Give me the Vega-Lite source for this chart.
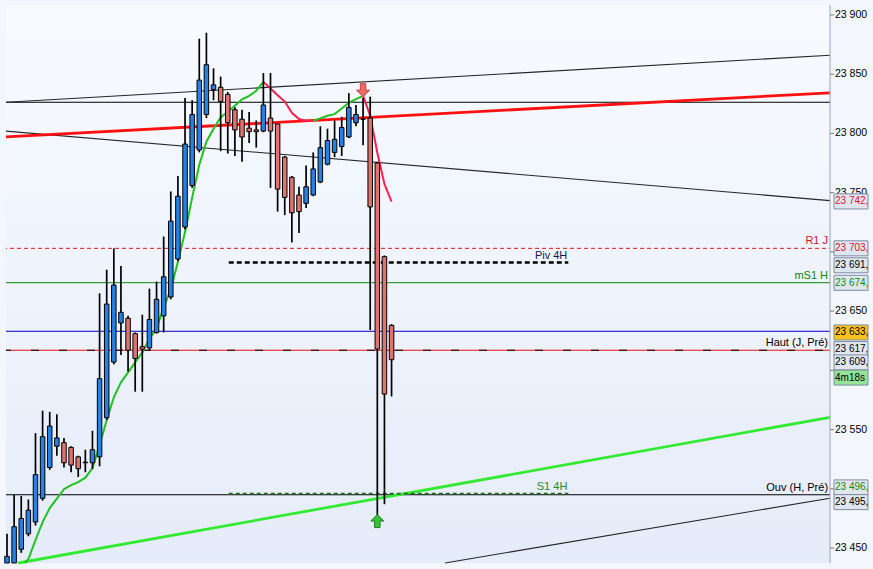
{
  "$schema": "https://vega.github.io/schema/vega-lite/v6.json",
  "width": 873,
  "height": 569,
  "autosize": {"type": "fit", "contains": "padding"},
  "padding": 0,
  "background": "#f3f6fc",
  "datasets": {
    "bougies": [
      {"k": 0, "o": 23437.4, "h": 23462, "l": 23437.4, "c": 23443},
      {"k": 1, "o": 23437.4, "h": 23495, "l": 23437.4, "c": 23468},
      {"k": 2, "o": 23449, "h": 23494, "l": 23446, "c": 23475},
      {"k": 3, "o": 23462, "h": 23491, "l": 23460, "c": 23482},
      {"k": 4, "o": 23472, "h": 23547, "l": 23469, "c": 23512},
      {"k": 5, "o": 23492, "h": 23566, "l": 23490, "c": 23544},
      {"k": 6, "o": 23518, "h": 23565, "l": 23516, "c": 23553},
      {"k": 7, "o": 23536, "h": 23563, "l": 23528, "c": 23543},
      {"k": 8, "o": 23539, "h": 23543, "l": 23518, "c": 23522},
      {"k": 9, "o": 23535, "h": 23536, "l": 23514, "c": 23520},
      {"k": 10, "o": 23527, "h": 23528, "l": 23510, "c": 23517},
      {"k": 11, "o": 23522, "h": 23533, "l": 23514, "c": 23522.5},
      {"k": 12, "o": 23522, "h": 23549, "l": 23517, "c": 23533},
      {"k": 13, "o": 23527, "h": 23665, "l": 23519, "c": 23593},
      {"k": 14, "o": 23560, "h": 23685, "l": 23558, "c": 23656},
      {"k": 15, "o": 23607, "h": 23703, "l": 23605, "c": 23672},
      {"k": 16, "o": 23640, "h": 23688, "l": 23613, "c": 23649},
      {"k": 17, "o": 23644, "h": 23646, "l": 23599, "c": 23617},
      {"k": 18, "o": 23631, "h": 23632, "l": 23582, "c": 23610},
      {"k": 19, "o": 23620, "h": 23647, "l": 23582, "c": 23618},
      {"k": 20, "o": 23619, "h": 23669, "l": 23617, "c": 23643},
      {"k": 21, "o": 23632, "h": 23675, "l": 23631, "c": 23660},
      {"k": 22, "o": 23646, "h": 23713, "l": 23632, "c": 23679},
      {"k": 23, "o": 23662, "h": 23751, "l": 23660, "c": 23726},
      {"k": 24, "o": 23694, "h": 23764, "l": 23692, "c": 23747},
      {"k": 25, "o": 23721, "h": 23830, "l": 23719, "c": 23791},
      {"k": 26, "o": 23756, "h": 23828, "l": 23754, "c": 23816},
      {"k": 27, "o": 23786, "h": 23880, "l": 23784, "c": 23845},
      {"k": 28, "o": 23816, "h": 23885, "l": 23813, "c": 23858},
      {"k": 29, "o": 23837, "h": 23855, "l": 23828, "c": 23841},
      {"k": 30, "o": 23839, "h": 23848, "l": 23785, "c": 23827},
      {"k": 31, "o": 23833, "h": 23835, "l": 23783, "c": 23809},
      {"k": 32, "o": 23820, "h": 23822, "l": 23781, "c": 23803},
      {"k": 33, "o": 23812, "h": 23820, "l": 23776, "c": 23797},
      {"k": 34, "o": 23804.5, "h": 23818, "l": 23792, "c": 23801.5},
      {"k": 35, "o": 23803, "h": 23811, "l": 23788, "c": 23801.5},
      {"k": 36, "o": 23802, "h": 23851, "l": 23801, "c": 23824},
      {"k": 37, "o": 23813, "h": 23851, "l": 23754, "c": 23802},
      {"k": 38, "o": 23808, "h": 23808, "l": 23734, "c": 23753},
      {"k": 39, "o": 23780, "h": 23781, "l": 23731, "c": 23746},
      {"k": 40, "o": 23763, "h": 23764, "l": 23708, "c": 23733},
      {"k": 41, "o": 23748, "h": 23755, "l": 23716, "c": 23734},
      {"k": 42, "o": 23741, "h": 23773, "l": 23737, "c": 23755},
      {"k": 43, "o": 23748, "h": 23784, "l": 23747, "c": 23770},
      {"k": 44, "o": 23759, "h": 23806, "l": 23758, "c": 23788},
      {"k": 45, "o": 23774, "h": 23804, "l": 23773, "c": 23794},
      {"k": 46, "o": 23784, "h": 23811, "l": 23780, "c": 23795},
      {"k": 47, "o": 23789, "h": 23814, "l": 23781, "c": 23805},
      {"k": 48, "o": 23797, "h": 23834, "l": 23796, "c": 23822},
      {"k": 49, "o": 23809, "h": 23824, "l": 23806, "c": 23816},
      {"k": 50, "o": 23812, "h": 23830, "l": 23790, "c": 23812},
      {"k": 51, "o": 23813, "h": 23831, "l": 23634, "c": 23738},
      {"k": 52, "o": 23775, "h": 23776, "l": 23478, "c": 23618},
      {"k": 53, "o": 23696, "h": 23697, "l": 23487, "c": 23580},
      {"k": 54, "o": 23638, "h": 23639, "l": 23578, "c": 23609}
    ],
    "moyenne": [
      {"k": 2.5, "v": 23437.4, "seg": 1, "dir": "hausse"},
      {"k": 3, "v": 23440.7, "seg": 1, "dir": "hausse"},
      {"k": 4, "v": 23456.8, "seg": 1, "dir": "hausse"},
      {"k": 5, "v": 23471.9, "seg": 1, "dir": "hausse"},
      {"k": 6, "v": 23483.7, "seg": 1, "dir": "hausse"},
      {"k": 7, "v": 23491.7, "seg": 1, "dir": "hausse"},
      {"k": 8, "v": 23499.7, "seg": 1, "dir": "hausse"},
      {"k": 9, "v": 23503.1, "seg": 1, "dir": "hausse"},
      {"k": 10, "v": 23505.6, "seg": 1, "dir": "hausse"},
      {"k": 11, "v": 23509.4, "seg": 1, "dir": "hausse"},
      {"k": 12, "v": 23517.4, "seg": 1, "dir": "hausse"},
      {"k": 13, "v": 23536.8, "seg": 1, "dir": "hausse"},
      {"k": 14, "v": 23558.1, "seg": 1, "dir": "hausse"},
      {"k": 15, "v": 23577.3, "seg": 1, "dir": "hausse"},
      {"k": 16, "v": 23589.9, "seg": 1, "dir": "hausse"},
      {"k": 17, "v": 23598.3, "seg": 1, "dir": "hausse"},
      {"k": 18, "v": 23606.7, "seg": 1, "dir": "hausse"},
      {"k": 19, "v": 23615.2, "seg": 1, "dir": "hausse"},
      {"k": 20, "v": 23626.6, "seg": 1, "dir": "hausse"},
      {"k": 21, "v": 23635.4, "seg": 1, "dir": "hausse"},
      {"k": 22, "v": 23653.1, "seg": 1, "dir": "hausse"},
      {"k": 23, "v": 23668.3, "seg": 1, "dir": "hausse"},
      {"k": 24, "v": 23691.9, "seg": 1, "dir": "hausse"},
      {"k": 25, "v": 23716.7, "seg": 1, "dir": "hausse"},
      {"k": 26, "v": 23745.8, "seg": 1, "dir": "hausse"},
      {"k": 27, "v": 23773.6, "seg": 1, "dir": "hausse"},
      {"k": 28, "v": 23793, "seg": 1, "dir": "hausse"},
      {"k": 29, "v": 23803.9, "seg": 1, "dir": "hausse"},
      {"k": 30, "v": 23813.5, "seg": 1, "dir": "hausse"},
      {"k": 31, "v": 23818.3, "seg": 1, "dir": "hausse"},
      {"k": 32, "v": 23823.3, "seg": 1, "dir": "hausse"},
      {"k": 33, "v": 23828.8, "seg": 1, "dir": "hausse"},
      {"k": 34, "v": 23831.7, "seg": 1, "dir": "hausse"},
      {"k": 35, "v": 23836, "seg": 1, "dir": "hausse"},
      {"k": 36, "v": 23843.5, "seg": 1, "dir": "hausse"},
      {"k": 36, "v": 23843.5, "seg": 2, "dir": "baisse"},
      {"k": 37, "v": 23837.9, "seg": 2, "dir": "baisse"},
      {"k": 38, "v": 23832.2, "seg": 2, "dir": "baisse"},
      {"k": 39, "v": 23826.9, "seg": 2, "dir": "baisse"},
      {"k": 40, "v": 23817.4, "seg": 2, "dir": "baisse"},
      {"k": 41, "v": 23812.1, "seg": 2, "dir": "baisse"},
      {"k": 42, "v": 23810.7, "seg": 2, "dir": "baisse"},
      {"k": 43, "v": 23810.7, "seg": 2, "dir": "baisse"},
      {"k": 43, "v": 23810.7, "seg": 3, "dir": "hausse"},
      {"k": 44, "v": 23812.7, "seg": 3, "dir": "hausse"},
      {"k": 45, "v": 23814.9, "seg": 3, "dir": "hausse"},
      {"k": 46, "v": 23816.3, "seg": 3, "dir": "hausse"},
      {"k": 47, "v": 23821, "seg": 3, "dir": "hausse"},
      {"k": 48, "v": 23825.8, "seg": 3, "dir": "hausse"},
      {"k": 49, "v": 23829, "seg": 3, "dir": "hausse"},
      {"k": 50, "v": 23831.7, "seg": 3, "dir": "hausse"},
      {"k": 50, "v": 23831.7, "seg": 4, "dir": "baisse"},
      {"k": 51, "v": 23814.9, "seg": 4, "dir": "baisse"},
      {"k": 52, "v": 23783.7, "seg": 4, "dir": "baisse"},
      {"k": 53, "v": 23757.3, "seg": 4, "dir": "baisse"},
      {"k": 54, "v": 23742.4, "seg": 4, "dir": "baisse"}
    ],
    "niveaux": [
      {"prix": 23826.3, "nom": "horizontale"},
      {"prix": 23703, "nom": "R1 J"},
      {"prix": 23674, "nom": "mS1 H"},
      {"prix": 23633, "nom": "cours"},
      {"prix": 23617, "nom": "rouge"},
      {"prix": 23617, "nom": "Haut (J, Pré)"},
      {"prix": 23495, "nom": "Ouv (H, Pré)"}
    ],
    "tendances": [
      {"k": -0.1403, "prix": 23826.3, "nom": "haut"},
      {"k": 115.57, "prix": 23866.0, "nom": "haut"},
      {"k": -0.1403, "prix": 23801.9, "nom": "descendante"},
      {"k": 115.57, "prix": 23743.3, "nom": "descendante"},
      {"k": 61.51, "prix": 23437.4, "nom": "bas"},
      {"k": 115.57, "prix": 23492.1, "nom": "bas"},
      {"k": -0.1403, "prix": 23797.1, "nom": "rouge"},
      {"k": 115.57, "prix": 23834.3, "nom": "rouge"},
      {"k": 1.57, "prix": 23437.4, "nom": "verte"},
      {"k": 115.57, "prix": 23560.4, "nom": "verte"}
    ],
    "segments": [
      {"k0": 31.14, "k1": 78.82, "prix": 23691, "nom": "Piv 4H"},
      {"k0": 31.14, "k1": 78.82, "prix": 23496, "nom": "S1 4H"}
    ],
    "etiquettes": [
      {"k": 115.29, "prix": 23703, "texte": "R1 J"},
      {"k": 115.29, "prix": 23674, "texte": "mS1 H"},
      {"k": 115.29, "prix": 23617, "texte": "Haut (J, Pré)"},
      {"k": 115.29, "prix": 23495, "texte": "Ouv (H, Pré)"},
      {"k": 78.68, "prix": 23691, "texte": "Piv 4H"},
      {"k": 78.68, "prix": 23496, "texte": "S1 4H"}
    ],
    "fleches": [
      {"k": 50, "prix": 23836.5, "sens": "vente"},
      {"k": 52, "prix": 23472.8, "sens": "achat"}
    ],
    "graduations": [
      {"prix": 23450, "texte": "23 450"},
      {"prix": 23500, "texte": "23 500"},
      {"prix": 23550, "texte": "23 550"},
      {"prix": 23600, "texte": ""},
      {"prix": 23650, "texte": "23 650"},
      {"prix": 23700, "texte": ""},
      {"prix": 23750, "texte": "23 750"},
      {"prix": 23800, "texte": "23 800"},
      {"prix": 23850, "texte": "23 850"},
      {"prix": 23900, "texte": "23 900"}
    ],
    "cadres": [
      {"pos": 23742.6, "texte": "23 742,", "fond": "std", "encre": "rouge"},
      {"pos": 23703, "texte": "23 703,", "fond": "std", "encre": "rouge"},
      {"pos": 23688.7, "texte": "23 691,", "fond": "std", "encre": "noir"},
      {"pos": 23673.9, "texte": "23 674,", "fond": "std", "encre": "vert"},
      {"pos": 23632, "texte": "23 633,", "fond": "or", "encre": "noir"},
      {"pos": 23618, "texte": "23 617,", "fond": "std", "encre": "noir"},
      {"pos": 23606.7, "texte": "23 609,", "fond": "std", "encre": "noir"},
      {"pos": 23593.9, "texte": "4m18s", "fond": "vert", "encre": "noir"},
      {"pos": 23501.2, "texte": "23 496,", "fond": "std", "encre": "vert"},
      {"pos": 23488.8, "texte": "23 495,", "fond": "std", "encre": "noir"}
    ]
  },
  "resolve": {
    "scale": {
      "color": "independent",
      "stroke": "independent",
      "strokeDash": "independent",
      "shape": "independent"
    }
  },
  "layer": [
    {
      "data": {"values": [{}]},
      "mark": {
        "type": "rect",
        "color": {
          "gradient": "linear",
          "x1": 0, "y1": 0, "x2": 0, "y2": 1,
          "stops": [
            {"offset": 0, "color": "#f8faff"},
            {"offset": 1, "color": "#e5ecf9"}
          ]
        }
      },
      "encoding": {
        "x": {"datum": -0.1403, "type": "quantitative", "scale": {"domain": [-0.1403, 120.9], "nice": false, "zero": false}, "axis": null},
        "x2": {"datum": 115.57},
        "y": {"datum": 23908.4, "type": "quantitative", "scale": {"domain": [23437.4, 23908.4], "nice": false, "zero": false}, "axis": null},
        "y2": {"datum": 23437.4}
      }
    },
    {
      "data": {"name": "niveaux"},
      "mark": {"type": "rule", "strokeWidth": 1, "strokeDashOffset": 3},
      "encoding": {
        "x": {"datum": -0.1403, "type": "quantitative", "axis": null},
        "x2": {"datum": 115.57},
        "y": {"field": "prix", "type": "quantitative", "axis": null},
        "color": {
          "field": "nom",
          "scale": {
            "domain": ["horizontale", "R1 J", "mS1 H", "cours", "rouge", "Haut (J, Pré)", "Ouv (H, Pré)"],
            "range": ["#000000", "#e41414", "#0a8a0a", "#0000cc", "#e41414", "#000000", "#000000"]
          },
          "legend": null
        },
        "strokeDash": {
          "field": "nom",
          "scale": {
            "domain": ["horizontale", "R1 J", "mS1 H", "cours", "rouge", "Haut (J, Pré)", "Ouv (H, Pré)"],
            "range": [[1, 0], [4, 3], [1, 0], [1, 0], [1, 0], [8, 20], [1, 0]]
          },
          "legend": null
        }
      }
    },
    {
      "data": {"name": "tendances"},
      "transform": [{"filter": "datum.nom == 'haut' || datum.nom == 'descendante' || datum.nom == 'bas'"}],
      "mark": {"type": "line", "color": "#262626", "strokeWidth": 1.1},
      "encoding": {
        "x": {"field": "k", "type": "quantitative", "axis": null},
        "y": {"field": "prix", "type": "quantitative", "axis": null},
        "detail": {"field": "nom"}
      }
    },
    {
      "data": {"name": "tendances"},
      "transform": [{"filter": "datum.nom == 'rouge' || datum.nom == 'verte'"}],
      "mark": {"type": "line", "strokeWidth": 2.8},
      "encoding": {
        "x": {"field": "k", "type": "quantitative", "axis": null},
        "y": {"field": "prix", "type": "quantitative", "axis": null},
        "color": {"field": "nom", "scale": {"domain": ["rouge", "verte"], "range": ["#ff1010", "#33ea33"]}, "legend": null}
      }
    },
    {
      "data": {"name": "segments"},
      "transform": [{"filter": "datum.nom == 'Piv 4H'"}],
      "mark": {"type": "rule", "color": "#000000", "strokeWidth": 2.4, "strokeDash": [5, 3]},
      "encoding": {
        "x": {"field": "k0", "type": "quantitative", "axis": null},
        "x2": {"field": "k1"},
        "y": {"field": "prix", "type": "quantitative", "axis": null}
      }
    },
    {
      "data": {"name": "segments"},
      "transform": [{"filter": "datum.nom == 'S1 4H'"}],
      "mark": {"type": "rule", "color": "#1f6a1f", "strokeWidth": 1.8, "strokeDash": [4, 3]},
      "encoding": {
        "x": {"field": "k0", "type": "quantitative", "axis": null},
        "x2": {"field": "k1"},
        "y": {"field": "prix", "type": "quantitative", "axis": null}
      }
    },
    {
      "data": {"name": "moyenne"},
      "mark": {"type": "line", "strokeWidth": 2},
      "encoding": {
        "x": {"field": "k", "type": "quantitative", "axis": null},
        "y": {"field": "v", "type": "quantitative", "axis": null},
        "detail": {"field": "seg"},
        "color": {"field": "dir", "scale": {"domain": ["hausse", "baisse"], "range": ["#1fc21f", "#ff1f50"]}, "legend": null}
      }
    },
    {
      "data": {"name": "bougies"},
      "mark": {"type": "rule", "color": "#000000", "strokeWidth": 1.7},
      "encoding": {
        "x": {"field": "k", "type": "quantitative", "axis": null},
        "y": {"field": "l", "type": "quantitative", "axis": null},
        "y2": {"field": "h"}
      }
    },
    {
      "data": {"name": "bougies"},
      "mark": {"type": "bar", "width": 4.5, "stroke": "#000000", "strokeWidth": 1},
      "encoding": {
        "x": {"field": "k", "type": "quantitative", "axis": null},
        "y": {"field": "o", "type": "quantitative", "axis": null},
        "y2": {"field": "c"},
        "color": {"condition": {"test": "datum.c >= datum.o", "value": "#2581e6"}, "value": "#e0736f"}
      }
    },
    {
      "data": {"name": "fleches"},
      "mark": {"type": "point", "filled": true, "size": 170, "strokeWidth": 1, "opacity": 1},
      "encoding": {
        "x": {"field": "k", "type": "quantitative", "axis": null},
        "y": {"field": "prix", "type": "quantitative", "axis": null},
        "shape": {
          "field": "sens",
          "scale": {
            "domain": ["vente", "achat"],
            "range": ["M-0.42,-1L0.42,-1L0.42,0L1,0L0,1L-1,0L-0.42,0Z", "M-0.42,1L0.42,1L0.42,0L1,0L0,-1L-1,0L-0.42,0Z"]
          },
          "legend": null
        },
        "color": {"field": "sens", "scale": {"domain": ["vente", "achat"], "range": ["#ef6a66", "#35c435"]}, "legend": null},
        "stroke": {"field": "sens", "scale": {"domain": ["vente", "achat"], "range": ["#c0403c", "#1d7f1d"]}, "legend": null}
      }
    },
    {
      "data": {"name": "etiquettes"},
      "mark": {"type": "text", "align": "right", "baseline": "bottom", "dy": -2, "font": "Liberation Sans", "fontSize": 11},
      "encoding": {
        "x": {"field": "k", "type": "quantitative", "axis": null},
        "y": {"field": "prix", "type": "quantitative", "axis": null},
        "text": {"field": "texte"},
        "color": {
          "field": "texte",
          "scale": {
            "domain": ["R1 J", "mS1 H", "Haut (J, Pré)", "Ouv (H, Pré)", "Piv 4H", "S1 4H"],
            "range": ["#e41414", "#0a8a0a", "#000000", "#000000", "#14145a", "#2a8a2a"]
          },
          "legend": null
        }
      }
    },
    {
      "data": {"values": [{}]},
      "mark": {"type": "rule", "color": "#9aa6b4", "strokeWidth": 1},
      "encoding": {
        "x": {"datum": 115.57, "type": "quantitative", "axis": null},
        "y": {"datum": 23908.4, "type": "quantitative", "axis": null},
        "y2": {"datum": 23437.4}
      }
    },
    {
      "data": {"name": "graduations"},
      "mark": {"type": "rule", "color": "#6f7c8c", "strokeWidth": 1},
      "encoding": {
        "x": {"datum": 115.57, "type": "quantitative", "axis": null},
        "x2": {"datum": 116.13},
        "y": {"field": "prix", "type": "quantitative", "axis": null}
      }
    },
    {
      "data": {"name": "graduations"},
      "transform": [{"filter": "datum.texte != ''"}],
      "mark": {"type": "text", "align": "left", "baseline": "middle", "font": "Liberation Sans", "fontSize": 10.5, "color": "#000000"},
      "encoding": {
        "x": {"datum": 116.27, "type": "quantitative", "axis": null},
        "y": {"field": "prix", "type": "quantitative", "axis": null},
        "text": {"field": "texte"}
      }
    },
    {
      "data": {"name": "cadres"},
      "mark": {"type": "bar", "height": 15, "stroke": "#7d8ca0", "strokeWidth": 1},
      "encoding": {
        "x": {"datum": 116.13, "type": "quantitative", "axis": null},
        "x2": {"datum": 120.9},
        "y": {"field": "pos", "type": "quantitative", "axis": null},
        "color": {"field": "fond", "scale": {"domain": ["std", "or", "vert"], "range": ["#dfe6f0", "#f8c31c", "#96e296"]}, "legend": null}
      }
    },
    {
      "data": {"name": "cadres"},
      "mark": {"type": "text", "align": "left", "baseline": "middle", "font": "Liberation Sans", "fontSize": 10},
      "encoding": {
        "x": {"datum": 116.27, "type": "quantitative", "axis": null},
        "y": {"field": "pos", "type": "quantitative", "axis": null},
        "text": {"field": "texte"},
        "color": {"field": "encre", "scale": {"domain": ["rouge", "noir", "vert"], "range": ["#e8102e", "#000000", "#128a12"]}, "legend": null}
      }
    }
  ],
  "config": {
    "view": {"stroke": null}
  }
}
